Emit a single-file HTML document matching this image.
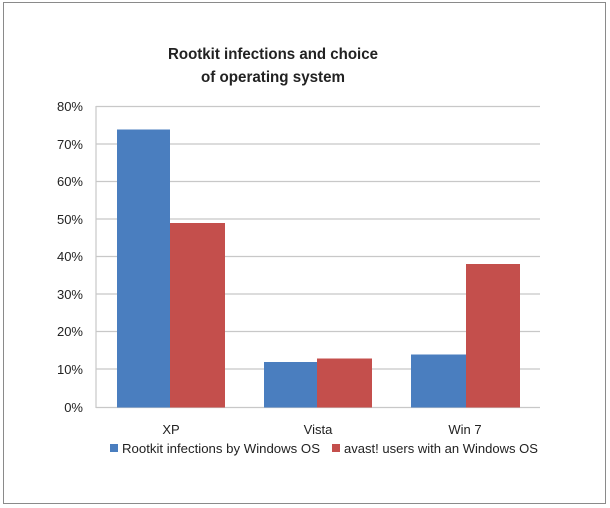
<!DOCTYPE html>
<html><head><meta charset="utf-8"><style>
body{margin:0;background:#fff;}
svg{display:block;}
text{font-family:"Liberation Sans",sans-serif;fill:#222;}
</style></head><body>
<svg width="610" height="508" viewBox="0 0 610 508" xmlns="http://www.w3.org/2000/svg">
<rect x="0" y="0" width="610" height="508" fill="#fff"/>
<rect x="3.5" y="2.5" width="602" height="501" fill="none" stroke="#8a8a8a" stroke-width="1"/>
<text x="273" y="59" text-anchor="middle" font-size="16" font-weight="bold" textLength="210" lengthAdjust="spacingAndGlyphs">Rootkit infections and choice</text>
<text x="273" y="82" text-anchor="middle" font-size="16" font-weight="bold" textLength="144" lengthAdjust="spacingAndGlyphs">of operating system</text>
<g stroke="#c8c8c8" stroke-width="1.2">
<line x1="96" y1="106.5" x2="540" y2="106.5"/>
<line x1="96" y1="144" x2="540" y2="144"/>
<line x1="96" y1="181.5" x2="540" y2="181.5"/>
<line x1="96" y1="219" x2="540" y2="219"/>
<line x1="96" y1="256.5" x2="540" y2="256.5"/>
<line x1="96" y1="294" x2="540" y2="294"/>
<line x1="96" y1="331.5" x2="540" y2="331.5"/>
<line x1="96" y1="369" x2="540" y2="369"/>
<line x1="96" y1="407.5" x2="540" y2="407.5"/>
<line x1="96" y1="106" x2="96" y2="408"/>
</g>
<g font-size="13" text-anchor="end">
<text x="83" y="111">80%</text>
<text x="83" y="149">70%</text>
<text x="83" y="186">60%</text>
<text x="83" y="224">50%</text>
<text x="83" y="261">40%</text>
<text x="83" y="299">30%</text>
<text x="83" y="336">20%</text>
<text x="83" y="374">10%</text>
<text x="83" y="412">0%</text>
</g>
<g fill="#4a7ebf">
<rect x="117" y="129.5" width="53" height="278"/>
<rect x="264" y="362" width="53" height="45.5"/>
<rect x="411" y="354.5" width="55" height="53"/>
</g>
<g fill="#c44f4c">
<rect x="170" y="223" width="55" height="184.5"/>
<rect x="317" y="358.5" width="55" height="49"/>
<rect x="466" y="264" width="54" height="143.5"/>
</g>
<g font-size="13" text-anchor="middle">
<text x="171" y="434">XP</text>
<text x="318" y="434">Vista</text>
<text x="465" y="434">Win 7</text>
</g>
<rect x="110" y="444" width="8" height="8" fill="#4a7ebf"/>
<text x="122" y="453" font-size="13" textLength="198" lengthAdjust="spacingAndGlyphs">Rootkit infections by Windows OS</text>
<rect x="332" y="444" width="8" height="8" fill="#c44f4c"/>
<text x="344" y="453" font-size="13" textLength="194" lengthAdjust="spacingAndGlyphs">avast! users with an Windows OS</text>
</svg>
</body></html>
